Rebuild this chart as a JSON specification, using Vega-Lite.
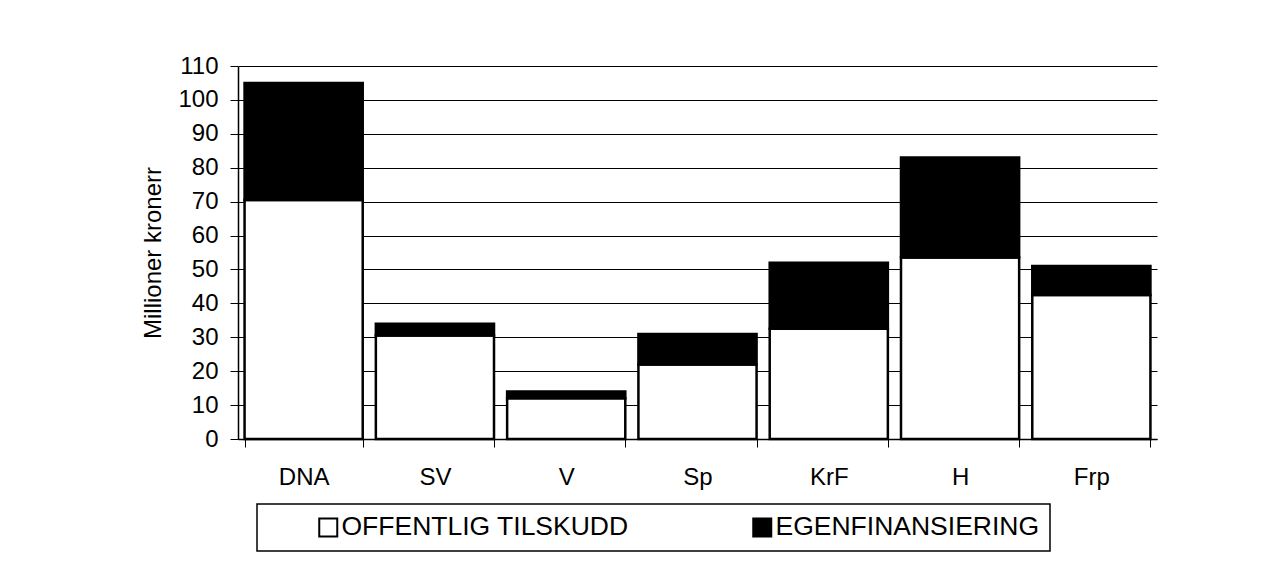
{
  "$schema": "https://vega.github.io/schema/vega-lite/v6.json",
  "width": 919,
  "height": 373,
  "autosize": {"type": "none"},
  "padding": {"left": 238, "top": 66, "right": 131, "bottom": 146},
  "background": "white",
  "config": {"view": {"stroke": null}, "font": "Liberation Sans"},
  "data": {
    "values": [
      {"party": "DNA", "type": "OFFENTLIG TILSKUDD", "value": 70.5, "k": 1},
      {"party": "DNA", "type": "EGENFINANSIERING", "value": 34.5, "k": 2},
      {"party": "SV", "type": "OFFENTLIG TILSKUDD", "value": 30.5, "k": 1},
      {"party": "SV", "type": "EGENFINANSIERING", "value": 3.5, "k": 2},
      {"party": "V", "type": "OFFENTLIG TILSKUDD", "value": 12, "k": 1},
      {"party": "V", "type": "EGENFINANSIERING", "value": 2, "k": 2},
      {"party": "Sp", "type": "OFFENTLIG TILSKUDD", "value": 22, "k": 1},
      {"party": "Sp", "type": "EGENFINANSIERING", "value": 9, "k": 2},
      {"party": "KrF", "type": "OFFENTLIG TILSKUDD", "value": 32.5, "k": 1},
      {"party": "KrF", "type": "EGENFINANSIERING", "value": 19.5, "k": 2},
      {"party": "H", "type": "OFFENTLIG TILSKUDD", "value": 53.5, "k": 1},
      {"party": "H", "type": "EGENFINANSIERING", "value": 29.5, "k": 2},
      {"party": "Frp", "type": "OFFENTLIG TILSKUDD", "value": 42.5, "k": 1},
      {"party": "Frp", "type": "EGENFINANSIERING", "value": 8.5, "k": 2}
    ]
  },
  "mark": {"type": "bar", "stroke": "black", "strokeWidth": 2.5},
  "encoding": {
    "x": {
      "field": "party",
      "type": "nominal",
      "sort": ["DNA", "SV", "V", "Sp", "KrF", "H", "Frp"],
      "scale": {"paddingInner": 0.1, "paddingOuter": 0.05},
      "axis": {
        "title": null,
        "labelAngle": 0,
        "labelFontSize": 24,
        "labelColor": "black",
        "labelPadding": 18,
        "tickBand": "extent",
        "tickSize": 8,
        "tickColor": "black",
        "domainColor": "black",
        "domainWidth": 1.5,
        "grid": false
      }
    },
    "y": {
      "field": "value",
      "type": "quantitative",
      "stack": "zero",
      "scale": {"domain": [0, 110], "nice": false},
      "axis": {
        "title": "Millioner kronerr",
        "values": [0, 10, 20, 30, 40, 50, 60, 70, 80, 90, 100, 110],
        "titleFontSize": 24,
        "titleFontWeight": "normal",
        "titleColor": "black",
        "titlePadding": 12,
        "labelFontSize": 24,
        "labelColor": "black",
        "labelPadding": 12,
        "tickSize": 8,
        "tickColor": "black",
        "domainColor": "black",
        "domainWidth": 1.5,
        "gridColor": "black",
        "gridOpacity": 1,
        "gridWidth": 1
      }
    },
    "color": {
      "field": "type",
      "type": "nominal",
      "scale": {"domain": ["OFFENTLIG TILSKUDD", "EGENFINANSIERING"], "range": ["white", "black"]},
      "legend": {
        "title": null,
        "orient": "none",
        "legendX": 19,
        "legendY": 438,
        "direction": "horizontal",
        "symbolType": "square",
        "symbolSize": 324,
        "symbolStrokeColor": "black",
        "symbolStrokeWidth": 2,
        "labelFontSize": 26.5,
        "labelColor": "black",
        "labelOffset": 0,
        "columnPadding": 72,
        "symbolOffset": 48,
        "padding": 10,
        "strokeColor": "black",
        "gridAlign": "all",
        "labelLimit": 0,
        "encode": {"legend": {"update": {"strokeWidth": {"value": 1.5}}}}
      }
    },
    "order": {"field": "k", "type": "quantitative"}
  }
}
